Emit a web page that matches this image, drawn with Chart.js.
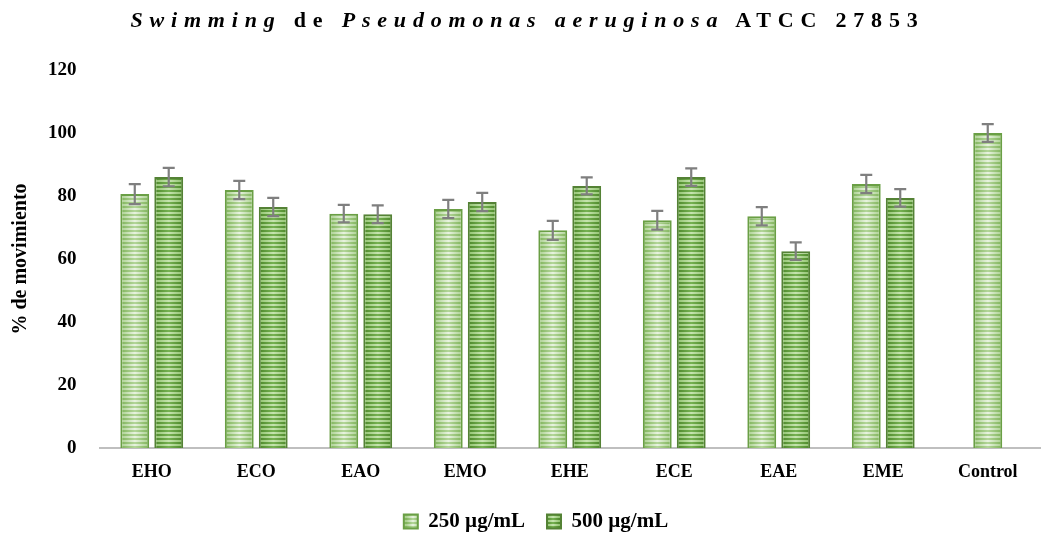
<!DOCTYPE html>
<html>
<head>
<meta charset="utf-8">
<script src="https://cdn.jsdelivr.net/npm/chart.js@4"></script>
<style>
  body { margin: 0; background: #fff; overflow: hidden; }
  #wrap { position: relative; width: 1045px; height: 534px; overflow: hidden; }
  #title {
    position: absolute; top: 7px; left: 10px; width: 1035px; text-align: center;
    font-family: "Liberation Serif", serif; font-weight: bold; font-size: 22px;
    letter-spacing: 6.8px; color: #000; white-space: nowrap;
  }
  #title i { font-style: italic; }
</style>
</head>
<body>
<div id="wrap">
  <div id="title"><i>Swimming</i> de <i>Pseudomonas aeruginosa</i> ATCC 27853</div>
  <canvas id="swim" width="1045" height="534"></canvas>
</div>
<script>
const labels = ['EHO', 'ECO', 'EAO', 'EMO', 'EHE', 'ECE', 'EAE', 'EME', 'Control'];
const conc250 = [80.6, 81.9, 74.4, 75.9, 69.1, 72.3, 73.6, 83.8, 100];
const conc500 = [86.0, 76.5, 74.2, 78.1, 83.2, 86.0, 62.5, 79.4, null];
const err250 = [3.2, 2.9, 2.8, 2.9, 3.0, 3.0, 2.9, 2.9, 2.8];
const err500 = [2.9, 2.9, 2.8, 2.9, 2.7, 2.8, 2.8, 2.8, 0];
const yTicks = [0, 20, 40, 60, 80, 100, 120];

const CAT_PCT = 0.65, BAR_PCT = 0.85, MAX_BAR = 29;

// striped fill, darker at the bar edges, lighter in the middle
const shades = [
  { dark: ['#7fb35a', '#b3d699'], light: ['#a8cf8c', '#e8f3e0'] },
  { dark: ['#4d872b', '#76b252'], light: ['#8fc26d', '#c6e4b0'] }
];

function stripeCanvas(w, s) {
  const c = document.createElement('canvas');
  c.width = Math.max(1, Math.round(w)); c.height = 4;
  const g = c.getContext('2d');
  const rows = [s.light, s.light, s.dark, s.dark];
  rows.forEach((pair, r) => {
    const lg = g.createLinearGradient(0, 0, c.width, 0);
    lg.addColorStop(0, pair[0]);
    lg.addColorStop(0.5, pair[1]);
    lg.addColorStop(1, pair[0]);
    g.fillStyle = lg;
    g.fillRect(0, r, c.width, 1);
  });
  return c;
}

const chartCtx = document.getElementById('swim').getContext('2d');
chartCtx.letterSpacing = '1px';

function barFill(context) {
  const chart = context.chart;
  const i = context.datasetIndex;
  const s = shades[i];
  const xs = chart.scales && chart.scales.x;
  if (!xs || !xs.width || context.dataIndex == null) {
    return chartCtx.createPattern(stripeCanvas(13, s), 'repeat');
  }
  const j = context.dataIndex;
  const center = xs.getPixelForValue(j);
  const slot = xs.width / labels.length * CAT_PCT / 2;
  const w = Math.min(slot * BAR_PCT, MAX_BAR);
  const pair = conc500[j] != null;
  const slotLeft = pair ? (i === 0 ? center - slot : center) : center - slot / 2;
  const left = slotLeft + (slot - w) / 2;
  const p = chartCtx.createPattern(stripeCanvas(w, s), 'repeat');
  p.setTransform(new DOMMatrix().translate(left, 0));
  return p;
}

const errorBars = {
  id: 'errorBars',
  afterDatasetsDraw(chart) {
    const c = chart.ctx;
    const y = chart.scales.y;
    const errs = [err250, err500];
    chart.data.datasets.forEach((ds, i) => {
      const meta = chart.getDatasetMeta(i);
      meta.data.forEach((bar, j) => {
        const v = ds.data[j];
        if (v == null) return;
        const e = errs[i][j];
        const top = y.getPixelForValue(v + e);
        const bot = y.getPixelForValue(v - e);
        c.save();
        c.strokeStyle = '#7f7f7f';
        c.lineWidth = 2.2;
        c.beginPath();
        c.moveTo(bar.x, top); c.lineTo(bar.x, bot);
        c.moveTo(bar.x - 6, top); c.lineTo(bar.x + 6, top);
        c.moveTo(bar.x - 6, bot); c.lineTo(bar.x + 6, bot);
        c.stroke();
        c.restore();
      });
    });
  }
};

// legend sits a little right of the canvas centre in the original
const legendShift = {
  id: 'legendShift',
  afterLayout(chart) {
    chart.legend.left += 16;
    chart.legend.right += 16;
  }
};

const serif = 'Liberation Serif';
const borders = ['#6a9f45', '#548235'];

new Chart(chartCtx, {
  type: 'bar',
  data: {
    labels: labels,
    datasets: [{
      label: '250 µg/mL',
      data: conc250,
      backgroundColor: barFill,
      borderColor: borders[0],
      borderWidth: 2,
      skipNull: true
    }, {
      label: '500 µg/mL',
      data: conc500,
      backgroundColor: barFill,
      borderColor: borders[1],
      borderWidth: 2,
      skipNull: true
    }]
  },
  options: {
    responsive: false,
    animation: false,
    barPercentage: BAR_PCT,
    categoryPercentage: CAT_PCT,
    maxBarThickness: MAX_BAR,
    layout: { padding: { top: 70, right: 5, left: 0, bottom: -8 } },
    plugins: {
      title: { display: false },
      tooltip: { enabled: false },
      legend: {
        position: 'bottom',
        labels: {
          boxWidth: 14, boxHeight: 14, padding: 22,
          color: '#000',
          font: { family: serif, size: 21, weight: 'bold' },
          generateLabels: (chart) => chart.data.datasets.map((ds, i) => ({
            text: ds.label,
            fillStyle: chartCtx.createPattern(stripeCanvas(14, shades[i]), 'repeat'),
            strokeStyle: borders[i],
            lineWidth: 2,
            fontColor: '#000',
            datasetIndex: i,
            hidden: false
          }))
        }
      }
    },
    scales: {
      x: {
        grid: { display: false },
        border: { display: true, color: '#bfbfbf', width: 2 },
        ticks: { color: '#000', padding: 6, font: { family: serif, size: 18, weight: 'bold' } },
        afterFit: (s) => { s.height = 41; }
      },
      y: {
        min: 0, max: 120,
        afterBuildTicks: (s) => { s.ticks = yTicks.map(v => ({ value: v })); },
        grid: { display: false },
        border: { display: false },
        ticks: { color: '#000', padding: 15, font: { family: serif, size: 19, weight: 'bold' } },
        title: {
          display: true, text: '% de movimiento', color: '#000',
          padding: { top: 9, bottom: 0 },
          font: { family: serif, size: 20, weight: 'bold' }
        }
      }
    }
  },
  plugins: [errorBars, legendShift]
});
</script>
</body>
</html>
